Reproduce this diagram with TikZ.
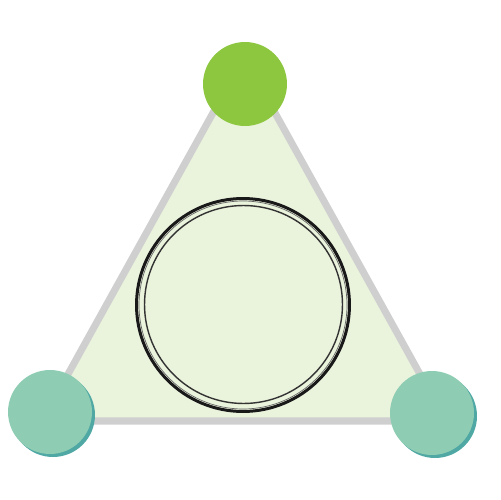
\documentclass[tikz,border=0pt]{standalone}
\usetikzlibrary{calc}
\definecolor{trifill}{HTML}{EAF3DC}
\definecolor{triedge}{HTML}{CFCFCF}
\definecolor{topgreen}{HTML}{8DC63F}
\definecolor{teal}{HTML}{8ECDB3}
\definecolor{tealshadow}{HTML}{4FA8A4}
\tikzset{
  px/.style={x=0.02cm,y=-0.02cm},
  tri/.style={fill=trifill,draw=triedge,line width=4pt,line join=round},
  topball/.style={circle,fill=topgreen,minimum size=1.68cm,inner sep=0pt},
  tealball/.style={circle,fill=teal,minimum size=1.68cm,inner sep=0pt},
  shadowball/.style={circle,fill=tealshadow,minimum size=1.68cm,inner sep=0pt},
  ringouter/.style={draw=black!90,line width=1.7pt},
  ringinner/.style={draw=black!80,line width=0.8pt}
}
\begin{document}
\begin{tikzpicture}[px]
\useasboundingbox (0,0) rectangle (500,500);
\coordinate (A) at (244,57);
\coordinate (B) at (42,421);
\coordinate (C) at (446,421);
\draw[tri] (A) -- (B) -- (C) -- cycle;
% inner ring
\node[circle,ringouter,minimum size=4.26cm,inner sep=0pt] (ring) at (243,305) {};
\node[circle,ringinner,minimum size=3.96cm,inner sep=0pt] (ringin) at (243.5,304.5) {};
\draw[black!60,line width=0.4pt] (243,305) circle (104);
% top ball
\node[topball] (top) at (245,84) {};
% bottom balls with shadow
\node[shadowball] (ls) at (53,415) {};
\node[tealball] (left) at (50,412) {};
\node[shadowball] (rs) at (435,416) {};
\node[tealball] (right) at (432,413) {};
\end{tikzpicture}
\end{document}
